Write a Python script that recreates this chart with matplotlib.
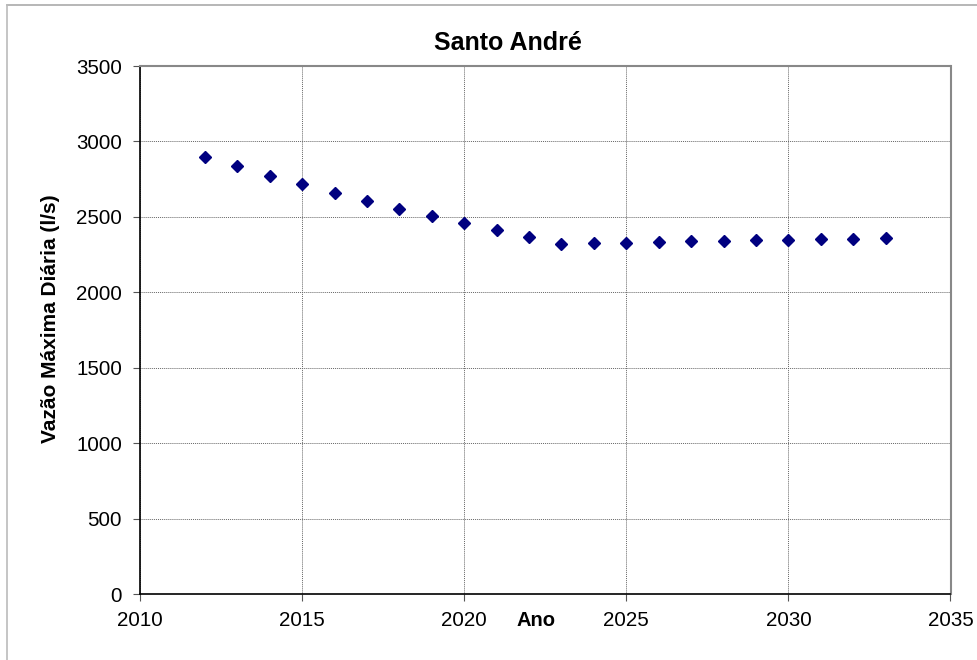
import matplotlib
matplotlib.use("Agg")
import matplotlib.pyplot as plt
from matplotlib.lines import Line2D

plt.rcParams['font.family'] = ['Liberation Sans', 'DejaVu Sans']

anos = [2012, 2013, 2014, 2015, 2016, 2017, 2018, 2019, 2020, 2021, 2022,
        2023, 2024, 2025, 2026, 2027, 2028, 2029, 2030, 2031, 2032, 2033]
vazao = [2898, 2838, 2774, 2716, 2661, 2608, 2555, 2506, 2460, 2416, 2369,
         2323, 2325, 2329, 2334, 2338, 2343, 2347, 2349, 2352, 2356, 2361]

x_ticks = [2010, 2015, 2020, 2025, 2030, 2035]
y_ticks = [0, 500, 1000, 1500, 2000, 2500, 3000, 3500]

W, H = 977, 660
fig = plt.figure(figsize=(W / 100, H / 100), dpi=100)
ax = fig.add_axes([140 / W, 1 - 594 / H, (950.5 - 140) / W, (594 - 66) / H])

ax.plot(anos, vazao, linestyle='none', marker='D', markersize=6.5,
        color='#000080', markeredgecolor='#000080')

ax.set_xlim(2010, 2035)
ax.set_ylim(0, 3500)
ax.set_xticks(x_ticks)
ax.set_yticks(y_ticks)
ax.tick_params(axis='both', labelsize=14.8, direction='out', length=5, width=0.8,
               color='#555555')
ax.tick_params(axis='y', pad=8)
ax.tick_params(axis='x', pad=7)

ax.grid(True, color='#666666', linestyle=(0, (1, 1)), linewidth=0.7)
ax.set_axisbelow(True)

for side in ('top', 'right'):
    ax.spines[side].set_color('#888888')
    ax.spines[side].set_linewidth(1.5)
for side in ('left', 'bottom'):
    ax.spines[side].set_color('black')
    ax.spines[side].set_linewidth(1.2)

fig.text(508 / W, 1 - 43 / H, 'Santo André', fontsize=18, fontweight='bold',
         ha='center', va='center')
fig.text(51 / W, 1 - 319 / H, 'Vazão Máxima Diária (l/s)', fontsize=15,
         fontweight='bold', rotation=90, ha='center', va='center')
fig.text(536 / W, 1 - 620 / H, 'Ano', fontsize=14.5, fontweight='bold',
         ha='center', va='center')

# chart-area border
fig.add_artist(Line2D([7 / W, 1.0], [1 - 5 / H, 1 - 5 / H],
                      transform=fig.transFigure, color='#aaaaaa', linewidth=1.2))
fig.add_artist(Line2D([7 / W, 7 / W], [0.0, 1 - 5 / H],
                      transform=fig.transFigure, color='#bbbbbb', linewidth=1.2))

fig.savefig('out.png', dpi=100)
